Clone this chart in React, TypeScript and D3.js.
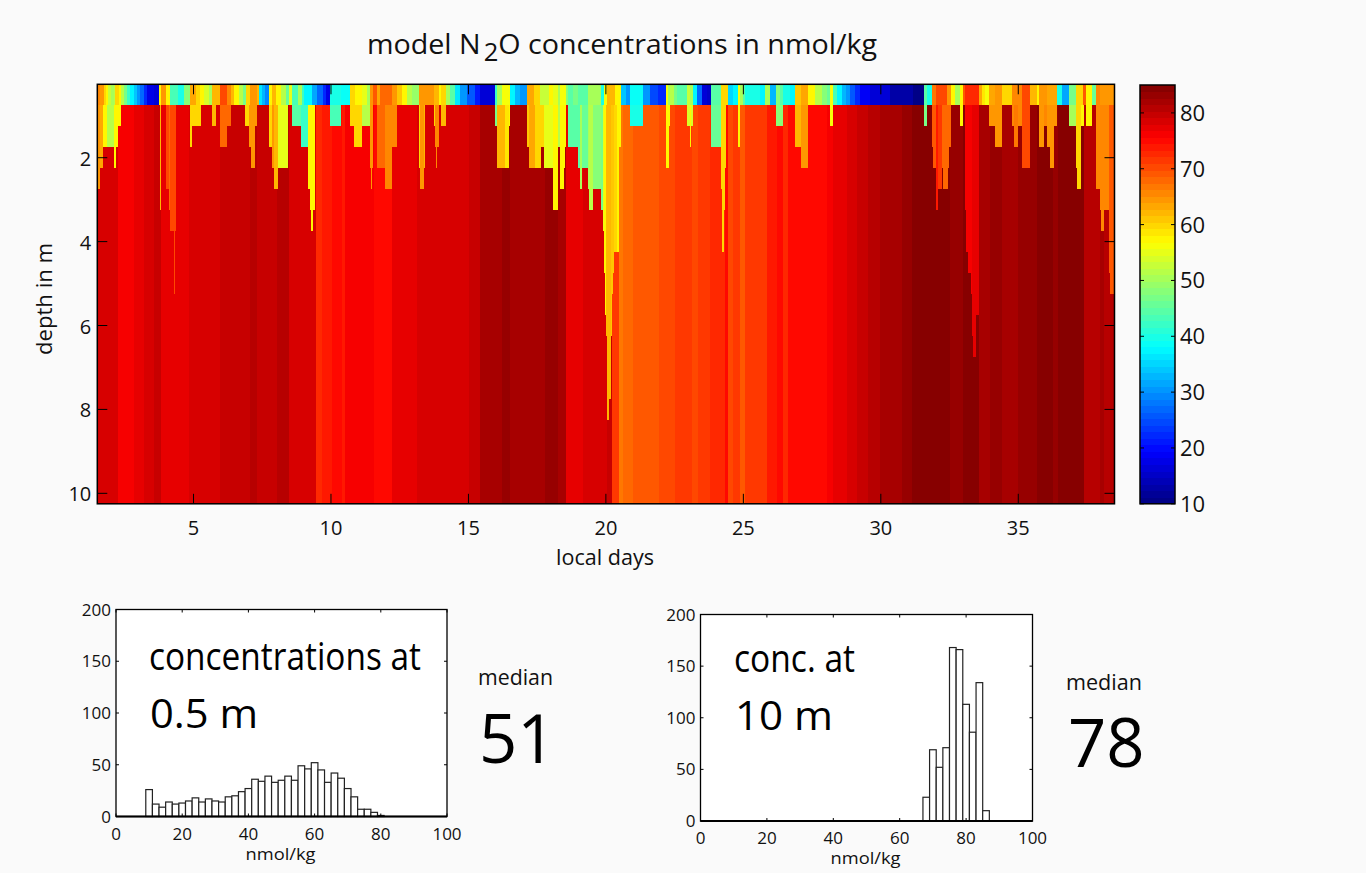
import React from "react";
import * as d3 from "d3";

// time is in model samples since day 1.5 (82.5 samples per day)
const SAMPLES_PER_DAY = 82.5;
const START_DAY = 1.5;
const END_DAY = 38.5;
const WINDOW_A = -21;
const WINDOW_B = 999;
const WINDOW_C = 2019;
const WINDOW_D = 1509;

// deep water concentration: [first sample, nmol/kg]
const deepRunsA: number[][] = [
  [21,78],[68,79],[82,76],[130,77],[160,78],[192,79.6],[212,77.5],[258,77],[295,78],[365,79],[388,79.3],[450,80.2],[480,81.2],[500,80.2],[560,81.2],[595,78],[678,73],[695,74],[725,75.6],[755,74],[765,76.2],[850,75.6],[905,77.5],[980,79],[1003,78],[1048,78.5],[1135,80],[1170,81.5],[1200,82.5],[1235,83.5],[1258,81.5],[1310,82],[1340,82.5],[1365,83.5],[1403,81.5],[1428,77.5],[1480,78.5],
];
const deepRunsD: number[][] = [
  [20,80],[35,72],[58,67.3],[68,67.6],[100,69.3],[140,68.6],[178,70],[225,71],[255,72],[275,70],[295,72],[330,73],[375,74.5],[385,70],[400,72],[420,69],[435,72],[500,73.5],[530,75],[548,73],[565,74.5],[600,75],[625,74.8],[648,75.6],[680,76.5],[700,77],[740,78],[770,79.5],[805,80.5],[840,81.5],[870,82],[905,83],[935,84.5],[980,84],[1050,83],[1090,84],[1137,82],[1170,83],[1205,82.5],[1255,83],[1288,83.5],[1310,84],[1360,83],[1375,84],[1452,80.5],[1500,82],[1512,80.5],
];

// 0.5 m row: [first sample, nmol/kg]
const surfaceRunsA: number[][] = [
  [21,66],[30,64],[40,60],[46,57],[54,53],[62,50],[70,52],[75,60],[85,58],[92,52],[100,47],[110,42],[120,38],[130,34],[140,31],[150,27],[160,22],[170,18],[190,16],[207,58],[213,65],[228,58],[240,43],[262,40],[280,48],[300,63],[318,60],[330,58],[340,54],[355,50],[366,62],[388,70],[411,66],[422,62],[430,58],[445,52],[458,47],[466,60],[478,65],[500,62],[505,36],[515,33],[525,29],[535,58],[546,62],[558,58],[572,52],[586,46],[597,55],[606,43],[622,50],[634,42],[642,37],[665,32],[680,27],[697,22],[708,18],[720,40],[753,39],[780,60],[795,58],[815,55],[830,50],[840,65],[849,69],[860,63],[870,68],[906,65],[920,61],[935,57],[950,52],[965,49],[985,65],
];
const surfaceRunsB: number[][] = [
  [12,62],[27,57],[33,60],[48,51],[60,44],[75,36],[90,31],[110,26],[135,21],[150,17],[195,42],[201,50],[215,56],[240,38],[255,33],[270,30],[291,63],[310,60],[330,53],[342,53],[355,57],[370,55],[385,50],[391,56],[408,48],[414,44],[430,47],[444,44],[475,50],[513,40],[522,56],[530,62],[555,58],[573,34],[588,30],[600,39],[639,31],[660,25],[685,22],[708,56],[714,50],[720,52],[732,47],[740,45],[771,53],[780,50],[789,38],[800,27],[815,17],[830,15],[843,44],[873,60],[894,35],[910,37],[924,56],[930,50],[938,44],[945,40],[990,38],
];
const surfaceRunsC: number[][] = [
  [-15,50],[0,33],[18,48],[30,45],[39,40],[60,37],[75,61],[93,63],[114,57],[135,52],[155,48],[170,46],[180,56],[189,43],[202,38],[215,33],[228,30],[240,26],[255,22],[270,19],[300,16],[360,13],[430,11],[462,45],[471,40],[486,67],[498,70],[530,65],[543,57],[555,50],[570,57],[579,69],[585,73],[627,63],[636,59],[645,56],[657,63],[675,64],[696,60],[726,66],[755,70],[780,62],[800,58],[807,65],[831,63],[860,40],[875,32],[897,47],[918,60],[938,69],[948,58],[966,46],[978,66],[990,65],[1032,65],
];

// columns where surface water reaches down: [first sample, last sample, deepest depth in m, nmol/kg]
const plumesA: number[][] = [
  [22,28,2.5,65],[28,38,2.0,63],[38,50,1.5,58],[50,72,1.5,52],[72,78,2.0,58],[78,84,1.5,57],[84,93,1.0,58],
  [209,212,3.0,62],[228,238,2.5,70],[238,258,3.5,70],[252,255,5.0,70],[237,239,3.0,68],
  [300,306,1.5,60],[306,333,1.0,60],[366,378,1.0,62],[388,411,1.5,68],[411,423,1.0,68],[465,475,1.0,60],
  [475,483,1.5,64],[483,495,2.0,64],[495,500,1.0,64],[535,546,1.5,60],[546,552,2.0,64],[552,564,2.5,62],[564,594,2.0,55],
  [604,633,1.0,45],[633,654,1.5,42],[654,660,2.5,58],[660,675,3.0,58],[663,669,3.5,57],[720,753,1.0,43],
  [780,790,1.0,60],[790,815,1.5,60],[815,840,1.0,52],[840,849,2.0,65],[843,846,2.5,65],
  [860,885,2.0,68],[885,906,2.5,66],[906,920,1.5,66],[985,988,2.0,60],[988,1002,2.5,65],[1002,1005,2.0,62],
];
const plumesB: number[][] = [
  [12,15,1.0,60],[15,27,1.5,66],[18,20,2.0,66],[33,48,1.0,62],[195,201,1.0,47],[201,225,2.0,62],[225,237,2.0,59],[237,240,1.0,57],
  [291,297,1.5,61],[297,315,2.0,63],[315,333,2.0,60],[333,342,1.5,60],[342,370,2.0,55],[370,385,3.0,57],[385,391,1.5,52],[391,402,2.5,57],[402,405,2.0,57],[405,408,1.5,58],
  [414,444,1.5,45],[444,450,2.0,45],[450,456,2.5,50],[456,474,2.0,46],[474,477,2.5,50],[477,489,3.0,52],[489,513,2.5,48],[513,518,3.0,47],
  [600,639,1.0,40],[708,717,2.0,58],[717,720,1.0,58],[771,780,1.0,54],[780,783,1.5,58],[783,789,1.0,54],
  [843,873,1.5,46],[873,876,2.5,60],[876,882,4.0,60],[882,885,3.0,60],[885,888,2.0,60],[924,930,1.5,58],
];
const plumesD: number[][] = [
  [8,12,3.5,55],[12,15,4.5,57],[15,18,5.5,58],[18,21,6.0,62],[21,27,8.0,62],[27,33,7.5,62],[33,36,6.0,61],[36,39,5.0,61],[39,42,4.5,61],[42,50,4.0,60],[50,57,4.0,58],[57,63,1.5,58],
];
const plumesC: number[][] = [
  [18,39,1.0,48],[75,93,1.5,62],[93,114,2.0,64],[180,189,1.0,56],[462,471,1.0,47],
  [486,489,1.5,69],[489,498,2.0,69],[498,504,3.0,74],[504,516,2.5,71],[519,534,2.5,68],[534,537,2.0,68],[537,543,1.5,68],[516,519,2.0,68],
  [570,579,1.0,58],[585,588,3.0,76],[588,594,4.0,76],[594,603,4.5,76],[603,606,5.0,76],[606,610,6.0,77],[610,618,6.5,77],[618,627,5.5,77],
  [657,675,1.0,64],[675,696,1.5,65],[726,732,1.0,66],[732,744,1.5,67],[744,755,1.0,66],[755,780,2.0,70],
  [807,822,1.5,65],[822,831,1.0,66],[831,840,1.5,65],[840,852,2.0,64],[852,861,1.0,64],
  [897,918,1.0,50],[918,921,2.0,60],[921,933,2.5,60],[933,942,1.0,58],[948,966,1.0,58],
  [978,990,2.5,66],[990,993,3.0,66],[993,1002,3.5,66],[1002,1016,3.0,66],[1016,1020,4.5,69],[1020,1032,5.0,69],
];

// histograms: bin centre = first + 2 * index
const surfaceHistFirst = 10;
const surfaceHistCounts = [26,12,9,14,12,13,15,18,14,17,15,14,19,20,24,27,36,34,39,33,35,39,35,49,46,52,45,33,42,37,27,19,7,7,4,1,0,0,0,0,0,0,0,0,0,0];
const deepHistFirst = 68;
const deepHistCounts = [23,69,52,71,168,166,113,86,134,10];

const xTicks = [5,10,15,20,25,30,35];
const yTicks = [2,4,6,8,10];
const cbTicks = [10,20,30,40,50,60,70,80];
const histXTicks = [0,20,40,60,80,100];
const histYTicks = [0,50,100,150,200];

const FONT = "'Open Sans', sans-serif";
const noLig = { fontVariantLigatures: "none" } as const;

function jet(t: number): string {
  const c = (v: number) => Math.round(255 * Math.max(0, Math.min(1, v)));
  const r = 1.5 - Math.abs(4 * t - 3);
  const g = 1.5 - Math.abs(4 * t - 2);
  const b = 1.5 - Math.abs(4 * t - 1);
  return `rgb(${c(r)},${c(g)},${c(b)})`;
}
const LEVELS = 64;
const CMIN = 10;
const CMAX = 85;
const colorOf = (v: number) => {
  const q = d3.scaleQuantize<number>().domain([CMIN, CMAX]).range(d3.range(LEVELS));
  return jet((q(v) + 0.5) / LEVELS);
};

const toDay = (s: number) => START_DAY + s / SAMPLES_PER_DAY;
const shiftRuns = (rows: number[][], off: number) => rows.map(([s, v]) => [s + off, v]);
const shiftPlumes = (rows: number[][], off: number) => rows.map(([a, b, d, v]) => [a + off, b + off, d, v]);

const deepRuns = [...shiftRuns(deepRunsA, WINDOW_A), ...shiftRuns(deepRunsD, WINDOW_D)];
const surfaceRuns = [...shiftRuns(surfaceRunsA, WINDOW_A), ...shiftRuns(surfaceRunsB, WINDOW_B), ...shiftRuns(surfaceRunsC, WINDOW_C)];
const plumes = [...shiftPlumes(plumesA, WINDOW_A), ...shiftPlumes(plumesB, WINDOW_B), ...shiftPlumes(plumesC, WINDOW_C), ...shiftPlumes(plumesD, WINDOW_D)];
const LAST_SAMPLE = (END_DAY - START_DAY) * SAMPLES_PER_DAY;

function Fit({ x, y, w, size, fill = "#000", children }: any) {
  return (
    <text x={x} y={y} fontSize={size} fontFamily={FONT} fill={fill} textLength={w} lengthAdjust="spacingAndGlyphs" style={noLig}>{children}</text>
  );
}

function Hist({ x0, x1, y0, y1, first, counts }: any) {
  const x = d3.scaleLinear().domain([0, 100]).range([x0, x1]);
  const y = d3.scaleLinear().domain([0, 200]).range([y0, y1]);
  return (
    <g>
      <rect x={x0} y={y1} width={x1 - x0} height={y0 - y1} fill="#fff" />
      {counts.map((c: number, i: number) => {
        const cx = first + 2 * i;
        return c > 0 ? (
          <rect key={i} x={x(cx - 1)} width={x(cx + 1) - x(cx - 1)} y={y(c)} height={y0 - y(c)} fill="#fff" stroke="#222" strokeWidth={1.2} />
        ) : null;
      })}
      <rect x={x0} y={y1} width={x1 - x0} height={y0 - y1} fill="none" stroke="#000" strokeWidth={1.3} />
      <line x1={x0} x2={x1} y1={y0} y2={y0} stroke="#000" strokeWidth={2} />
      {histXTicks.map((t) => (
        <g key={t}>
          <line x1={x(t)} x2={x(t)} y1={y0} y2={y0 - 3} stroke="#000" />
          <line x1={x(t)} x2={x(t)} y1={y1} y2={y1 + 3} stroke="#000" />
          <text x={x(t)} y={y0 + 23} fontSize={17} textAnchor="middle" fontFamily={FONT} fill="#111">{t}</text>
        </g>
      ))}
      {histYTicks.map((t) => (
        <g key={t}>
          <line x1={x0} x2={x0 + 3} y1={y(t)} y2={y(t)} stroke="#000" />
          <line x1={x1} x2={x1 - 3} y1={y(t)} y2={y(t)} stroke="#000" />
          <text x={x0 - 5} y={y(t) + 6} fontSize={17} textAnchor="end" fontFamily={FONT} fill="#111">{t}</text>
        </g>
      ))}
      <text x={(x0 + x1) / 2 - 1} y={y0 + 43} fontSize={17} textAnchor="middle" fontFamily={FONT} fill="#111" textLength={70} lengthAdjust="spacingAndGlyphs">nmol/kg</text>
    </g>
  );
}

export default function App() {
  const x = d3.scaleLinear().domain([START_DAY, END_DAY]).range([97.3, 1114.5]);
  const y = d3.scaleLinear().domain([0.25, 10.25]).range([84.3, 503.8]);
  const cb = d3.scaleLinear().domain([CMIN, CMAX]).range([503.8, 85]);
  const L = x.range()[0], R = x.range()[1], T = y.range()[0], B = y.range()[1];
  const rowBottom = y(0.75);
  const sx = (s: number) => x(toDay(s));
  const endOf = (rows: number[][], i: number) => (i + 1 < rows.length ? rows[i + 1][0] : LAST_SAMPLE);
  const CBL = 1140, CBR = 1175;
  return (
    <svg width={1366} height={873} style={{ position: "fixed", left: 0, top: 0, background: "#fafafa" }}>
      <g shapeRendering="crispEdges">
        {deepRuns.map((r, i) => (
          <rect key={i} x={sx(r[0])} width={sx(endOf(deepRuns, i)) - sx(r[0]) + 0.5} y={rowBottom} height={B - rowBottom} fill={colorOf(r[1])} />
        ))}
        {plumes.filter((p) => p[1] > p[0]).map((p, i) => (
          <rect key={i} x={sx(p[0])} width={sx(p[1]) - sx(p[0])} y={rowBottom} height={y(p[2] + 0.25) - rowBottom} fill={colorOf(p[3])} />
        ))}
        {surfaceRuns.map((r, i) => (
          <rect key={i} x={sx(r[0])} width={Math.max(0, sx(endOf(surfaceRuns, i)) - sx(r[0])) + 0.5} y={T} height={rowBottom - T} fill={colorOf(r[1])} />
        ))}
      </g>
      <rect x={L} y={T} width={R - L} height={B - T} fill="none" stroke="#000" strokeWidth={1.5} />
      {xTicks.map((t) => (
        <g key={t}>
          <line x1={x(t)} x2={x(t)} y1={B} y2={B - 10} stroke="#000" strokeWidth={1} />
          <line x1={x(t)} x2={x(t)} y1={T} y2={T + 10} stroke="#000" strokeWidth={1} />
          <text x={x(t)} y={535} fontSize={20} textAnchor="middle" fontFamily={FONT} fill="#111">{t}</text>
        </g>
      ))}
      {yTicks.map((t) => (
        <g key={t}>
          <line x1={L} x2={L + 10} y1={y(t)} y2={y(t)} stroke="#000" strokeWidth={1} />
          <line x1={R} x2={R - 10} y1={y(t)} y2={y(t)} stroke="#000" strokeWidth={1} />
          <text x={L - 6} y={y(t) + 8} fontSize={20} textAnchor="end" fontFamily={FONT} fill="#111">{t}</text>
        </g>
      ))}
      <text x={605} y={565} fontSize={22} textAnchor="middle" fontFamily={FONT} fill="#111" textLength={98} lengthAdjust="spacingAndGlyphs">local days</text>
      <text transform="translate(52,299) rotate(-90)" fontSize={22} textAnchor="middle" fontFamily={FONT} fill="#111" textLength={112} lengthAdjust="spacingAndGlyphs">depth in m</text>
      <text x={367} y={54} fontSize={28} fontFamily={FONT} fill="#111" style={noLig} textLength={510} lengthAdjust="spacingAndGlyphs">
        model N<tspan dx={3} dy={7} fontSize={25}>2</tspan><tspan dy={-7}>O concentrations in nmol/kg</tspan>
      </text>

      <g shapeRendering="crispEdges">
        {d3.range(LEVELS).map((i) => {
          const v0 = CMIN + ((CMAX - CMIN) * i) / LEVELS;
          const v1 = CMIN + ((CMAX - CMIN) * (i + 1)) / LEVELS;
          return <rect key={i} x={CBL} width={CBR - CBL} y={cb(v1)} height={cb(v0) - cb(v1) + 0.5} fill={jet((i + 0.5) / LEVELS)} />;
        })}
      </g>
      <rect x={CBL} y={85} width={CBR - CBL} height={418.8} fill="none" stroke="#000" strokeWidth={1.5} />
      {cbTicks.map((t) => (
        <g key={t}>
          <line x1={CBL} x2={CBL + 4} y1={cb(t)} y2={cb(t)} stroke="#000" />
          <line x1={CBR} x2={CBR - 4} y1={cb(t)} y2={cb(t)} stroke="#000" />
          <text x={1180} y={cb(t) + 8} fontSize={22} fontFamily={FONT} fill="#111">{t}</text>
        </g>
      ))}

      <Hist x0={116} x1={447} y0={816.5} y1={609.5} first={surfaceHistFirst} counts={surfaceHistCounts} />
      <Hist x0={700.5} x1={1032.5} y0={821} y1={614.5} first={deepHistFirst} counts={deepHistCounts} />

      <Fit x={149} y={670} size={38} w={272}>concentrations at</Fit>
      <Fit x={150} y={728} size={41} w={108}>0.5 m</Fit>
      <Fit x={478} y={685} size={22} w={75} fill="#111">median</Fit>
      <text x={479} y={763} fontSize={67} fontFamily={FONT} fill="#000">51</text>

      <Fit x={734} y={672} size={38} w={121}>conc. at</Fit>
      <Fit x={735} y={730} size={41} w={98}>10 m</Fit>
      <Fit x={1066} y={690} size={22} w={76} fill="#111">median</Fit>
      <text x={1068} y={767} fontSize={67} fontFamily={FONT} fill="#000">78</text>
    </svg>
  );
}
